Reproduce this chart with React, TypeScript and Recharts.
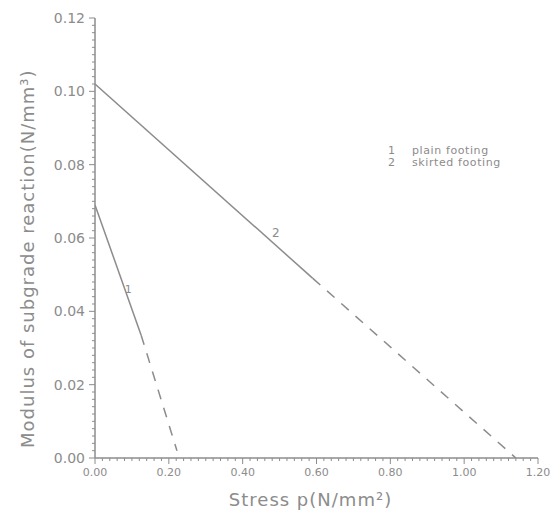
import { LineChart, Line, XAxis, YAxis, ReferenceDot } from 'recharts'

// curve 1: plain footing
const plainSolid = [
  { x: 0, y: 0.069 },
  { x: 0.125, y: 0.0335 },
]
const plainDashed = [
  { x: 0.125, y: 0.0335 },
  { x: 0.222, y: 0.002 },
]
// curve 2: skirted footing
const skirtedSolid = [
  { x: 0, y: 0.102 },
  { x: 0.59, y: 0.049 },
]
const skirtedDashed = [
  { x: 0.59, y: 0.049 },
  { x: 1.14, y: 0 },
]

// every 0.02 on x and 0.002 on y gets a small tick, labels at 0.2 / 0.02
const xMinor = Array.from({ length: 61 }, (_, i) => +(i * 0.02).toFixed(2))
const yMinor = Array.from({ length: 61 }, (_, i) => +(i * 0.002).toFixed(3))
const xMajorStep = 0.2
const yMajorStep = 0.02

const legendNums = ['1', '2']
const legendNames = ['plain footing', 'skirted footing']

const grey = '#8c8c8c'
const font = 'DejaVu Sans, sans-serif'
const isMajor = (v: number, step: number) => Math.abs(v / step - Math.round(v / step)) < 1e-6

function XTick({ x, y, payload }: any) {
  const v = payload.value
  const major = isMajor(v, xMajorStep)
  const ay = y - 8
  return (
    <g>
      <line x1={x} x2={x} y1={ay} y2={ay + (major ? 6 : 3)} stroke={grey} />
      {major && (
        <text x={x} y={ay + 10} dy="0.71em" textAnchor="middle" fill={grey} fontSize={11} fontFamily={font}>
          {v.toFixed(2)}
        </text>
      )}
    </g>
  )
}

function YTick({ x, y, payload }: any) {
  const v = payload.value
  const major = isMajor(v, yMajorStep)
  const ax = x + 8
  return (
    <g>
      <line x1={ax} x2={ax - (major ? 6 : 3)} y1={y} y2={y} stroke={grey} />
      {major && (
        <text x={ax - 10} y={y} dy="0.355em" textAnchor="end" fill={grey} fontSize={14} fontFamily={font}>
          {v.toFixed(2)}
        </text>
      )}
    </g>
  )
}

export default function App() {
  return (
    <div style={{ position: 'absolute', left: 0, top: 0, width: 558, height: 514, background: '#fff', fontFamily: font }}>
      <LineChart width={558} height={514} margin={{ top: 18, right: 20, bottom: 0, left: 0 }}>
        <XAxis dataKey="x" type="number" domain={[0, 1.2]} ticks={xMinor} height={56} allowDataOverflow interval={0}
          tickSize={6} tickMargin={2} tickLine={false} tick={<XTick />}
          axisLine={{ stroke: grey, strokeWidth: 1.5 }}
          label={{ value: 'Stress  p(N/mm²)', position: 'insideBottom', offset: 8, dx: -6, fill: grey, fontSize: 18, letterSpacing: 1, fontFamily: font }} />
        <XAxis xAxisId="top" orientation="top" dataKey="x" type="number" domain={[0, 1.2]} height={0}
          tick={false} tickLine={false} axisLine={{ stroke: grey, strokeWidth: 1.5 }} />
        <YAxis type="number" domain={[0, 0.12]} ticks={yMinor} width={95} interval={0} allowDataOverflow
          tickSize={6} tickMargin={2} tickLine={false} tick={<YTick />}
          axisLine={{ stroke: grey, strokeWidth: 1.5 }}
          label={{ value: 'Modulus  of  subgrade  reaction(N/mm³)', angle: -90, position: 'insideLeft', offset: 28, dy: 210, fill: grey, fontSize: 18, letterSpacing: 1, fontFamily: font }} />
        <YAxis yAxisId="right" orientation="right" type="number" domain={[0, 0.12]} width={0}
          tick={false} tickLine={false} axisLine={{ stroke: grey, strokeWidth: 1.5 }} />
        <Line data={plainSolid} dataKey="y" stroke={grey} strokeWidth={1.5} dot={false} isAnimationActive={false} />
        <Line data={plainDashed} dataKey="y" stroke={grey} strokeWidth={1.5} strokeDasharray="10 9" dot={false} isAnimationActive={false} />
        <Line data={skirtedSolid} dataKey="y" stroke={grey} strokeWidth={1.5} dot={false} isAnimationActive={false} />
        <Line data={skirtedDashed} dataKey="y" stroke={grey} strokeWidth={1.5} strokeDasharray="10 9" dot={false} isAnimationActive={false} />
        <ReferenceDot x={0.09} y={0.046} r={0} label={{ value: '1', fill: grey, fontSize: 11, fontFamily: font }} />
        <ReferenceDot x={0.49} y={0.0615} r={0} label={{ value: '2', fill: grey, fontSize: 12, fontFamily: font }} />
      </LineChart>
      <div style={{ position: 'absolute', left: 388, top: 145, color: grey, fontSize: 11, lineHeight: '12px', letterSpacing: 0.6, whiteSpace: 'pre' }}>
        {legendNums.map((n, i) => (
          <div key={n} style={{ display: 'flex' }}>
            <span style={{ width: 24 }}>{n}</span>
            <span>{legendNames[i]}</span>
          </div>
        ))}
      </div>
    </div>
  )
}
